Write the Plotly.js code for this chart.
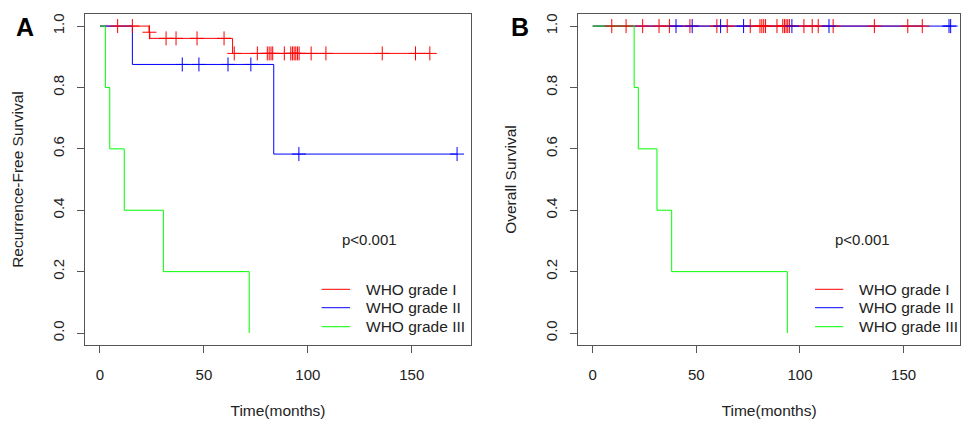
<!DOCTYPE html>
<html>
<head>
<meta charset="utf-8">
<script src="https://cdn.plot.ly/plotly-3.0.1.min.js"></script>
<style>html,body{margin:0;padding:0;background:#fff;}#chart{width:966px;height:421px;}</style>
</head>
<body>
<div id="chart"></div>
<script>
// ---------- Data ----------
const groupNames = ["WHO grade I", "WHO grade II", "WHO grade III"];
const xTickVals = [0, 50, 100, 150];
const xTickText = ["0", "50", "100", "150"];
const yTickVals = [0, 0.2, 0.4, 0.6, 0.8, 1.0];
const yTickText = ["0.0", "0.2", "0.4", "0.6", "0.8", "1.0"];

// Panel A: Recurrence-Free Survival
const rfsGradeI_eventTimes  = [23.6, 24.0, 63.8];
const rfsGradeI_levels      = [0.980, 0.960, 0.911];
const rfsGradeI_censorTimes = [8.5, 15.6, 23.8, 31.8, 36.6, 46.7, 59.7, 64.6, 75.7, 80.5, 81.4, 82.3, 83.1, 88.7, 91.8, 92.6, 93.4, 94.2, 95.0, 95.8, 101.6, 108.7, 135.8, 151.8, 158.7];
const rfsGradeII_eventTimes  = [15.6, 83.6];
const rfsGradeII_levels      = [0.875, 0.583];
const rfsGradeII_censorTimes = [39.6, 47.6, 61.6, 72.6, 95.7, 171.8];
const rfsGradeIII_eventTimes = [2.6, 4.7, 11.7, 30.5, 71.8];
const rfsGradeIII_levels     = [0.8, 0.6, 0.4, 0.2, 0.0];
const rfsGradeIII_censorTimes = [];

// Panel B: Overall Survival
const osGradeI_eventTimes  = [];
const osGradeI_levels      = [];
const osGradeI_censorTimes = [9.2, 16.1, 24.1, 32.0, 37.0, 46.9, 59.9, 64.9, 76.0, 80.7, 81.6, 82.5, 83.4, 88.9, 91.7, 92.5, 93.3, 94.1, 94.9, 101.9, 105.9, 108.8, 116.0, 135.9, 152.0, 159.0];
const osGradeII_eventTimes  = [];
const osGradeII_levels      = [];
const osGradeII_censorTimes = [40.2, 48.0, 61.7, 72.8, 96.1, 114.0, 171.9, 172.7];
const osGradeIII_eventTimes = [20.0, 22.0, 31.0, 38.1, 93.9];
const osGradeIII_levels     = [0.8, 0.6, 0.4, 0.2, 0.0];
const osGradeIII_censorTimes = [];

const pValueText = "p<0.001";

// ---------- Helpers ----------
const colors = ["#ff0000", "#0000ff", "#00ff00"];
const FONT = "Liberation Sans, Arial, Helvetica, sans-serif";

function stepXY(events, levels, censors) {
  const x = [0], y = [1];
  for (let i = 0; i < events.length; i++) { x.push(events[i]); y.push(levels[i]); }
  const last = levels.length ? levels[levels.length - 1] : 1;
  const lastEvent = events.length ? events[events.length - 1] : 0;
  const lastCens = censors.length ? Math.max(...censors) : 0;
  if (lastCens > lastEvent) { x.push(lastCens); y.push(last); }
  return {x, y};
}
function survAt(t, events, levels) {
  let s = 1;
  for (let i = 0; i < events.length; i++) if (events[i] <= t) s = levels[i];
  return s;
}

const traces = [];
function addPanel(groups, xa, ya) {
  groups.forEach((g, i) => {
    const xy = stepXY(g.e, g.l, g.c);
    traces.push({
      type: "scatter", mode: "lines", x: xy.x, y: xy.y,
      line: {shape: "hv", color: colors[i], width: 1},
      name: groupNames[i], xaxis: xa, yaxis: ya, showlegend: false, hoverinfo: "skip"
    });
  });
  groups.forEach((g, i) => {
    if (!g.c.length) return;
    traces.push({
      type: "scatter", mode: "markers", x: g.c, y: g.c.map(t => survAt(t, g.e, g.l)),
      marker: {symbol: "cross-thin", size: 10, color: colors[i], line: {color: colors[i], width: 1}},
      name: groupNames[i] + " censored", xaxis: xa, yaxis: ya, showlegend: false, hoverinfo: "skip"
    });
  });
}

addPanel([
  {e: rfsGradeI_eventTimes, l: rfsGradeI_levels, c: rfsGradeI_censorTimes},
  {e: rfsGradeII_eventTimes, l: rfsGradeII_levels, c: rfsGradeII_censorTimes},
  {e: rfsGradeIII_eventTimes, l: rfsGradeIII_levels, c: rfsGradeIII_censorTimes}
], "x", "y");
addPanel([
  {e: osGradeI_eventTimes, l: osGradeI_levels, c: osGradeI_censorTimes},
  {e: osGradeII_eventTimes, l: osGradeII_levels, c: osGradeII_censorTimes},
  {e: osGradeIII_eventTimes, l: osGradeIII_levels, c: osGradeIII_censorTimes}
], "x2", "y2");

const W = 966, H = 421;
const yDom = [(H - 345.3) / H, (H - 13.8) / H];

function xAxis(domain, range, anchor) {
  return {
    domain, range, anchor, tickvals: xTickVals, ticktext: xTickText,
    ticks: "outside", ticklen: 7, tickwidth: 1, tickcolor: "#555",
    showline: true, mirror: true, linecolor: "#555", linewidth: 1,
    showgrid: false, zeroline: false, fixedrange: true,
    tickfont: {family: FONT, size: 15, color: "#222"},
    ticklabelstandoff: 9,
    title: {text: "Time(months)", font: {family: FONT, size: 15.5, color: "#222"}, standoff: 22}
  };
}
function yAxis(title, anchor) {
  return {
    domain: yDom, range: [-0.04, 1.04], anchor, tickvals: yTickVals, ticktext: yTickText,
    tickangle: -90, ticks: "outside", ticklen: 7, tickwidth: 1, tickcolor: "#555",
    showline: true, mirror: true, linecolor: "#555", linewidth: 1,
    showgrid: false, zeroline: false, fixedrange: true,
    tickfont: {family: FONT, size: 15, color: "#222"},
    ticklabelstandoff: 7,
    title: {text: title, font: {family: FONT, size: 15.5, color: "#222"}, standoff: 22}
  };
}

// Manual legends (line sample + label) for each panel
const legendRowsY = [289.3, 307.7, 326.7];
const legendPanels = [{lineX0: 321.7, lineX1: 350, textX: 364}, {lineX0: 815, lineX1: 843.3, textX: 857.3}];
const shapes = [];
const annotations = [
  {text: "<b>A</b>", xref: "paper", yref: "paper", x: 25 / W, y: (H - 27) / H, xanchor: "center", yanchor: "middle",
   showarrow: false, font: {family: FONT, size: 25, color: "#000"}},
  {text: "<b>B</b>", xref: "paper", yref: "paper", x: 520 / W, y: (H - 27) / H, xanchor: "center", yanchor: "middle",
   showarrow: false, font: {family: FONT, size: 25, color: "#000"}},
  {text: pValueText, xref: "x", yref: "y", x: 129.5, y: 0.304, showarrow: false,
   font: {family: FONT, size: 15, color: "#222"}},
  {text: pValueText, xref: "x2", yref: "y2", x: 130, y: 0.304, showarrow: false,
   font: {family: FONT, size: 15, color: "#222"}}
];
legendPanels.forEach(p => {
  groupNames.forEach((name, i) => {
    const yy = (H - legendRowsY[i]) / H;
    shapes.push({type: "line", xref: "paper", yref: "paper", x0: p.lineX0 / W, x1: p.lineX1 / W, y0: yy, y1: yy,
                 line: {color: colors[i], width: 1}});
    annotations.push({text: name, xref: "paper", yref: "paper", x: p.textX / W, y: yy, xanchor: "left", yanchor: "middle",
                      showarrow: false, font: {family: FONT, size: 15.5, color: "#222"}});
  });
});

const layout = {
  width: W, height: H, margin: {l: 0, r: 0, t: 0, b: 0},
  paper_bgcolor: "#fff", plot_bgcolor: "#fff",
  showlegend: false,
  xaxis: xAxis([85 / W, 471 / W], [-7.2, 178.5], "y"),
  yaxis: yAxis("Recurrence-Free Survival", "x"),
  xaxis2: xAxis([578.3 / W, 960 / W], [-6.95, 177.2], "y2"),
  yaxis2: yAxis("Overall Survival", "x2"),
  shapes, annotations
};

Plotly.newPlot("chart", traces, layout, {displayModeBar: false, staticPlot: true});
</script>
</body>
</html>
